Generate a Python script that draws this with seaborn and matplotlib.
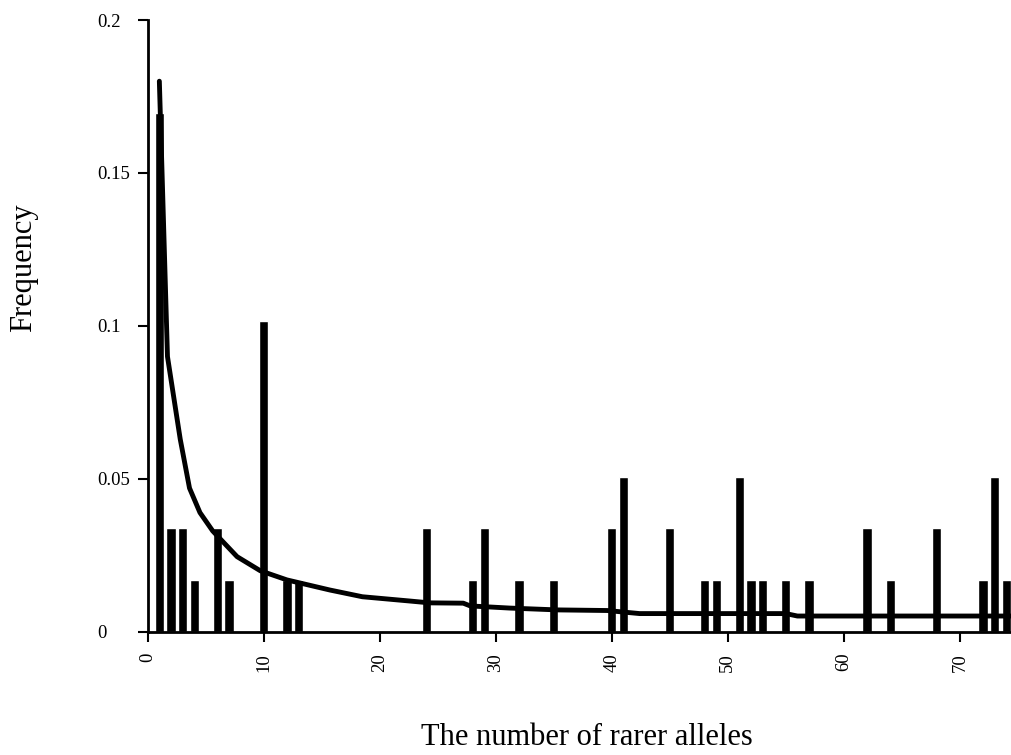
import pandas as pd
import seaborn as sns
import matplotlib.pyplot as plt

# observed frequencies (multiples of 1/59)
alleles = [1, 2, 3, 4, 6, 7, 10, 12, 13, 24, 28, 29, 32, 35, 40, 41, 45,
           48, 49, 51, 52, 53, 55, 57, 62, 64, 68, 72, 73, 74]
freq = [0.1695, 0.0339, 0.0339, 0.0169, 0.0339, 0.0169, 0.1017, 0.0169,
        0.0169, 0.0339, 0.0169, 0.0339, 0.0169, 0.0169, 0.0339, 0.0508,
        0.0339, 0.0169, 0.0169, 0.0508, 0.0169, 0.0169, 0.0169, 0.0169,
        0.0339, 0.0169, 0.0339, 0.0169, 0.0508, 0.0169]

# expected curve
curve_x = [1.0, 1.7, 2.8, 3.6, 4.5, 5.6, 7.7, 9.7, 12.0, 15.7, 18.5, 22.6,
           24.3, 27.2, 27.8, 31.2, 35.3, 39.6, 42.4, 55.0, 56.0, 74.5]
curve_y = [0.180, 0.090, 0.063, 0.047, 0.039, 0.033, 0.0246, 0.020, 0.017,
           0.0137, 0.0115, 0.0101, 0.0095, 0.0094, 0.0085, 0.0078, 0.0072,
           0.0070, 0.0060, 0.0060, 0.0052, 0.0052]

yticks = [0, 0.05, 0.1, 0.15, 0.2]
ytick_labels = ['0', '0.05', '0.1', '0.15', '0.2']
xticks = [0, 10, 20, 30, 40, 50, 60, 70]

bars = pd.DataFrame({'alleles': alleles, 'freq': freq})
curve = pd.DataFrame({'x': curve_x, 'y': curve_y})

sns.set_style('ticks')
plt.rcParams['font.family'] = ['Liberation Serif', 'DejaVu Serif']
plt.rcParams['text.color'] = 'black'
plt.rcParams['axes.labelcolor'] = 'black'
plt.rcParams['xtick.color'] = 'black'
plt.rcParams['ytick.color'] = 'black'

fig = plt.figure(figsize=(10.12, 7.55), dpi=100)
ax = fig.add_axes([0.146, 0.163, 0.854, 0.8105])

sns.barplot(data=bars, x='alleles', y='freq', native_scale=True,
            color='black', width=0.8, saturation=1, ax=ax)
sns.lineplot(data=curve, x='x', y='y', color='black', linewidth=3.5, ax=ax)

ax.set_xlim(0, 74.5)
ax.set_ylim(0, 0.2)
ax.set_xticks(xticks)
ax.set_xticklabels([str(t) for t in xticks], rotation=90, fontsize=13.5)
ax.set_yticks(yticks)
ax.set_yticklabels(ytick_labels, fontsize=13.5, ha='left')
ax.tick_params(axis='y', length=7.5, width=1.5, pad=29)
ax.tick_params(axis='x', length=7, width=1.5, pad=8)

for side in ['top', 'right']:
    ax.spines[side].set_visible(False)
for side in ['left', 'bottom']:
    ax.spines[side].set_linewidth(2)
    ax.spines[side].set_color('black')

ax.set_xlabel('The number of rarer alleles', fontsize=22)
ax.set_ylabel('Frequency', fontsize=22)
ax.xaxis.set_label_coords(0.508, -0.149)
ax.yaxis.set_label_coords(-0.127, 0.596)

fig.savefig('out.png', dpi=100)
